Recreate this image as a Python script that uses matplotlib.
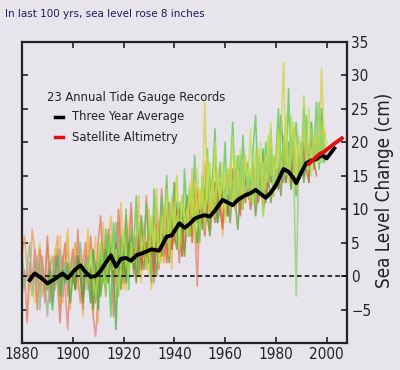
import matplotlib
matplotlib.use("Agg")
import matplotlib.pyplot as plt

# three year average
avg_years = [1883, 1885, 1888, 1890, 1893, 1896, 1898, 1901, 1903, 1905, 1907, 1909, 1911,
             1913, 1915, 1917, 1919, 1921, 1923, 1925, 1928, 1931, 1934, 1937, 1939, 1942,
             1944, 1946, 1948, 1950, 1952, 1954, 1956, 1959, 1961, 1963, 1965, 1968, 1970,
             1972, 1974, 1976, 1978, 1980, 1983, 1985, 1987, 1988, 1990, 1992, 1994, 1996,
             1998, 2000, 2002, 2003]
avg_vals = [-0.6, 0.4, -0.4, -1.1, -0.4, 0.4, -0.3, 1.0, 1.6, 0.6, -0.1, 0.0, 0.8,
            2.0, 3.1, 1.4, 2.6, 2.7, 2.3, 3.1, 3.5, 4.0, 3.8, 5.9, 6.1, 7.9,
            7.2, 7.8, 8.6, 8.9, 9.1, 8.9, 9.8, 11.4, 11.0, 10.6, 11.4, 12.1, 12.4,
            12.9, 12.3, 11.7, 12.5, 13.6, 16.0, 15.6, 14.6, 13.9, 15.5, 16.9, 17.3, 17.5,
            18.1, 17.6, 18.6, 19.1]

# satellite altimetry (red)
sat_years = [1993, 1995, 1997, 1999, 2001, 2003, 2006]
sat_vals = [16.8, 17.5, 18.2, 18.6, 19.2, 19.8, 20.6]

# individual tide gauge records, yearly values from a start year
rec_a_start = 1880
rec_a = [3, 6, 1, -2, 7, 4, -1, 2, -3, 0,
         5, 1, -2, 3, 6, 0, -4, 2, 4, -1,
         2, 5, 0, 3, -2, 1, 4, -3, -1, 2,
         -2, 1, 5, 3, 0, 6, 2, -1, 4, 3,
         1, 5, 2, 6, 3, 0, 4, 7, 2, 5,
         3, 6, 1, 4, 8, 5, 2, 7, 9, 4,
         6, 10, 7, 5, 9, 12, 8, 6, 11, 9]

rec_b_start = 1882
rec_b = [-6, -2, 1, -4, 2, 5, -1, -3, 0, 3,
         -2, 4, 1, -5, -1, 3, 6, 0, 2, -2,
         4, 1, -3, 2, 5, 0, -6, 1, 3, -1,
         2, 6, -1, 3, 0, 5, 8, 2, -2, 4,
         1, 6, 3, -1, 5, 2, 7, 4, 0, 6,
         3, 8, 5, 2, 10, 6, 4, 9, 7, 5]

rec_c_start = 1880
rec_c = [-3, 1, -7, 2, -1, 4, 0, -2, 3, -4,
         0, 2, -3, 1, 4, -1, 3, -2, -8, 1,
         -1, 3, 0, -4, 2, 5, -2, 1, -6, -9,
         -3, 2, 4, 0, 6, 2, -1, 3, 8, 1,
         4, 9, 2, 5, 0, 3, 7, 2, 5, 1,
         6, 3, 9, 4, 1, 7, 5, 10, 3, 8,
         5, 9, 6, 11, 4, 8, 7, 12, 9, -1.5,
         10, 8, 13, 9, 7, 12, 10, 14, 11, 8, 13, 10, 12]

rec_d_start = 1890
rec_d = [-2, 1, -5, 0, 3, -3, 1, -1, 2, -4,
         0, -2, 3, 1, -3, 2, 0, -4, 4, 1,
         -5, 1, 3, -2, 2, 5, 0, -8, 3, 1,
         2, -1, 4, 6, 1, 3, 7, 2, 5, 3,
         4, 8, 2, 6, 3, 9, 5, 7, 4, 10,
         7, 11, 5, 9, 8, 12, 6, 10, 13, 8,
         9, 13, 7, 11, 15, 10, 12, 8, 14, 11,
         13, 9, 16, 12, 10, 14, 18, 11, 15, 12,
         14, 17, 11, 15, 13, 19, 12, 16, 14, 18,
         15, 13, 24, 18, 14, 20, 16, 22, 12, 17,
         19, 15, 21, 17, 23, 16, 20, 18, 25, 17, 19]

rec_e_start = 1905
rec_e = [2, -1, 4, 0, -3, 2, 5, 1, -2, 3,
         6, 1, 4, -2, 2, 7, 3, 0, 5, 2,
         4, 8, 3, 6, 1, 5, 9, 4, 7, 2,
         6, 10, 5, 8, 12, 7, 9, 5, 11, 8,
         10, 6, 13, 9, 11, 7, 14, 10, 12, 17,
         11, 9, 15, 12, 14, 10, 16, 13, 11, 18,
         12, 15, 10, 17, 13, 16, 11, 19, 14, 12,
         17, 13, 21, 15, 18, 14, 22, 17, 15, 20,
         16, 24, 18, 14, 21, 17, 27, 19, 16, 22,
         18, 21, 17, 23, 19, 20]

rec_f_start = 1900
rec_f = [1, -2, 3, 0, -4, 2, -1, 1, -5, 0,
         2, -3, 1, 4, -1, 3, 0, 5, 2, -2,
         3, 0, 5, 2, 4, -1, 6, 3, 1, 5,
         2, 7, 4, 0, 6, 3, 8, 5, 2, 9,
         6, 4, 10, 7, 3, 9, 6, 11, 8, 5,
         10, 7, 12, 9, 6, 11, 14, 8, 10, 13,
         9, 12, 8, 14, 11, 7, 13, 10, 15, 12,
         11, 14, 9, 13, 16, 10, 12, 15, 11, 14,
         13, 16, 12, 18, 14, 17, 13, 19, 15, 16,
         18, 14, 17]

rec_g_start = 1925
rec_g = [3, 7, 1, 5, 2, 6, 4, 0, 8, 3,
         5, 9, 2, 7, 4, 8, 10, 6, 3, 9,
         7, 11, 5, 9, 13, 8, 10, 6, 12, 9,
         11, 8, 14, 10, 7, 13, 9, 12, 16, 10,
         13, 9, 15, 11, 14, 10, 12, 16, 11, 13,
         15, 11, 14, 17, 12, 16, 13, 18, 14, 20,
         17, 14, 19, 13, 18, 15, 20, 16, 14, 21, 17, 15]

rec_h_start = 1945
rec_h = [8, 12, 9, 14, 10, 13, 11, 26, 12, 9,
         14, 11, 16, 12, 10, 15, 13, 17, 11, 14,
         16, 12, 15, 18, 13, 11, 17, 14, 19, 15,
         13, 18, 15, 20, 16, 14, 19, 21, 32, 17,
         15, 20, 23, 17, 14, 19, 22, 16, 20, 18,
         21, 17, 19, 31, 20, 18]

rec_i_start = 1960
rec_i = [12, 15, 10, 14, 16, 11, 13, 17, 12, 15,
         13, 16, 11, 18, 14, 12, 17, 15, 19, 13,
         16, 14, 18, 20, 15, 17, 21, 16, -3, 18,
         15, 25, 19, 17, 22, 18, 20, 26, 17, 21]

rec_j_start = 1880
rec_j = [4, -2, 1, 5, -3, 0, 3, -5, 2, -1,
         -6, 1, 3, -2, 0, 4, -3, 2, -1, 1,
         3, -1, 2, 5, 0, -2, 3, 1, -4, 2,
         0, 4, 2, -3, 6, 3, 1, 8, 4, 2]

rec_k_start = 1895
rec_k = [6, -3, 2, 7, -5, 1, 5, -2, 4, -6,
         3, 7, -4, 1, 6, -7, 2, 8, -3, 5,
         9, 0, -5, 4, 11, 2, -2, 7, 10, 1,
         5, 12, -1, 8, 3, 10, -2, 6, 13, 4,
         9, 2, 14, 7, 1, 11, 15, 5, 10, 3,
         12, 6, 16, 9, 4, 13, 8, 17, 10, 7,
         14, 18, 9, 12, 6, 15]

rec_l_start = 1910
rec_l = [-4, 5, -1, 7, 2, -6, 8, 3, -3, 6,
         1, 10, -2, 7, 4, 12, 0, 9, 3, 11,
         5, -1, 13, 6, 2, 12, 8, 15, 4, 10,
         14, 6, 11, 3, 16, 9, 13, 7, 18, 10,
         5, 15, 11, 19, 8, 14, 22, 10, 17, 12,
         20, 9, 15, 23, 12, 18, 10, 21, 14, 17,
         11, 19, 24, 13, 17, 9, 20, 15, 22, 12,
         18, 25, 14, 21, 16, 28, 13, 19, 23, 15,
         20, 17, 24, 14, 22, 19, 26, 16, 21, 18]

rec_m_start = 1885
rec_m = [2, -5, 4, 1, -2, 6, -4, 0, 3, -1,
         -7, 2, 5, -3, 1, 4, -2, 7, 0, -5,
         3, -1, 6, 2, -4, 5, 9, 1, -2, 7,
         4, -6, 2, 10, 5, -1, 8, 3, 11, 2,
         6, 0, 9, 4, 12, 2, 7, -1, 10, 5,
         13, 3, 8, 11, 4, 14, 7, 2, 12, 9, 6]

rec_n_start = 1930
rec_n = [1, 8, 4, 11, 2, 9, 6, 13, 3, 10,
         7, 15, 4, 12, 9, 6, 14, 11, 5, 16,
         10, 13, 7, 18, 12, 9, 20, 14, 11, 17,
         8, 16, 13, 21, 10, 15, 19, 12, 17, 14,
         22, 11, 16, 13, 20, 9, 18, 14, 23, 12,
         17, 21, 15, 19, 24, 14, 18, 22, 13, 20,
         16, 23, 18, 25, 15, 21, 19, 24, 17, 22, 20]

records = [
    (rec_a_start, rec_a, "#f0a050"),
    (rec_b_start, rec_b, "#e8c840"),
    (rec_k_start, rec_k, "#f0b848"),
    (rec_c_start, rec_c, "#e88070"),
    (rec_m_start, rec_m, "#e07860"),
    (rec_j_start, rec_j, "#88b888"),
    (rec_d_start, rec_d, "#40b040"),
    (rec_l_start, rec_l, "#58c850"),
    (rec_f_start, rec_f, "#6a9a30"),
    (rec_g_start, rec_g, "#d86040"),
    (rec_e_start, rec_e, "#a8e040"),
    (rec_n_start, rec_n, "#c0e050"),
    (rec_h_start, rec_h, "#d8d040"),
    (rec_i_start, rec_i, "#90d070"),
]

x_ticks = [1880, 1900, 1920, 1940, 1960, 1980, 2000]
y_ticks = [-5, 0, 5, 10, 15, 20, 25, 30, 35]

font = ["DejaVu Sans"]
stretch = "condensed"
bg = "#e7e5eb"

fig = plt.figure(figsize=(4, 3.7), dpi=100, facecolor=bg)
ax = fig.add_axes([0.055, 0.073, 0.8125, 0.8135], facecolor=bg)

for start, vals, col in records:
    yrs = list(range(start, start + len(vals)))
    ax.plot(yrs, vals, color=col, lw=1.2, alpha=0.75)

ax.axhline(0, color="black", lw=1.1, ls=(0, (3, 2)))
ax.plot(avg_years, avg_vals, color="black", lw=2.8, solid_joinstyle="round")
ax.plot(sat_years, sat_vals, color="#e01010", lw=2.8)

ax.set_xlim(1880, 2008)
ax.set_ylim(-10, 35)
ax.set_xticks(x_ticks)
ax.set_yticks(y_ticks)
ax.yaxis.tick_right()
ax.tick_params(direction="in", length=4, width=1.2, top=True, left=True, right=True,
               labelleft=False, labelright=True, pad=3, colors="#222222", labelsize=11)
for lab in ax.get_xticklabels() + ax.get_yticklabels():
    lab.set_family(font)
    lab.set_stretch(stretch)
for sp in ax.spines.values():
    sp.set_linewidth(1.6)
    sp.set_color("#222222")

# legend drawn by hand like the original
kw = dict(transform=ax.transAxes, fontsize=9.3, family=font, stretch=stretch,
          va="center", color="#222222")
ax.text(0.077, 0.814, "23 Annual Tide Gauge Records", **kw)
ax.plot([0.10, 0.125], [0.751, 0.751], transform=ax.transAxes, color="black", lw=2.5)
ax.text(0.154, 0.751, "Three Year Average", **kw)
ax.plot([0.10, 0.125], [0.684, 0.684], transform=ax.transAxes, color="#e01010", lw=2.5)
ax.text(0.154, 0.684, "Satellite Altimetry", **kw)

fig.text(0.9625, 0.486, "Sea Level Change (cm)", rotation=90, ha="center", va="center",
         fontsize=13.5, family=font, stretch=stretch, color="#222222")
fig.text(0.012, 0.962, "In last 100 yrs, sea level rose 8 inches", ha="left", va="center",
         fontsize=7.5, color="#1c1c5c")

fig.savefig("out.png", dpi=100, facecolor=bg)
